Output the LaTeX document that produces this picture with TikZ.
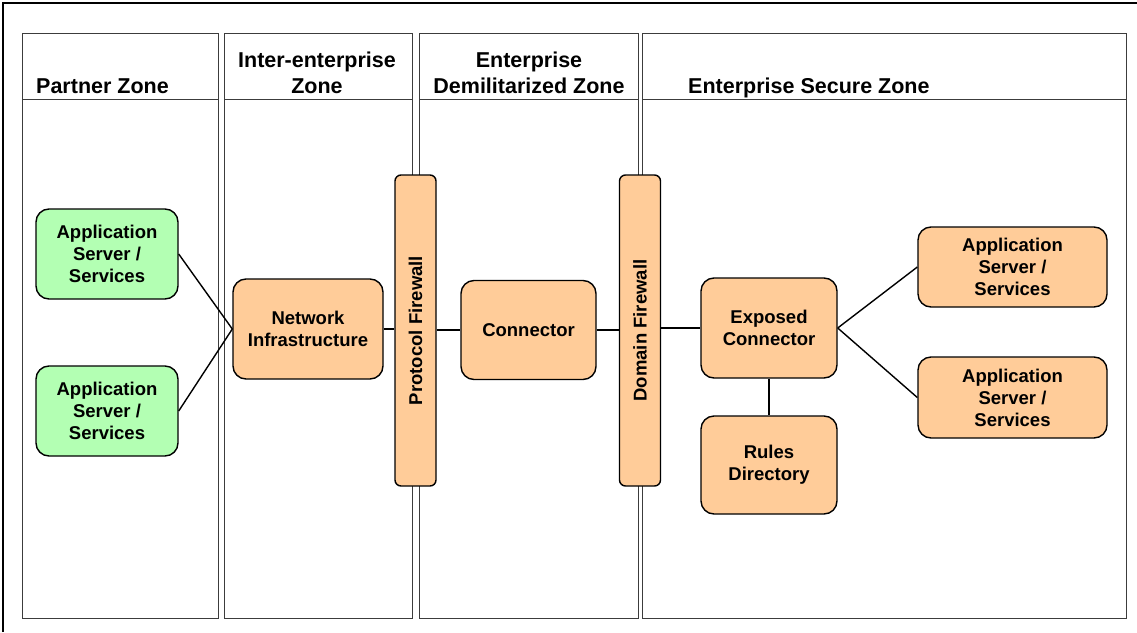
\documentclass[tikz,border=0pt]{standalone}
\usepackage{fontspec}
\usepackage{graphicx}
\setmainfont{Liberation Sans}
\definecolor{orangefill}{RGB}{255,204,153}
\definecolor{greenfill}{RGB}{179,255,179}
\definecolor{zoneline}{RGB}{60,60,60}
\begin{document}
\begin{tikzpicture}[x=1pt,y=-1pt,
  zone/.style={draw=zoneline, line width=0.9pt},
  box/.style={draw=black, line width=1.4pt, rounded corners=13pt, fill=orangefill,
    align=center, inner sep=0pt, font=\fontsize{18.5}{22}\selectfont\bfseries},
  greenbox/.style={box, fill=greenfill},
  fwbox/.style={draw=black, line width=1.4pt, rounded corners=6pt, fill=orangefill,
    inner sep=0pt, minimum width=41pt, minimum height=311pt,
    font=\fontsize{18.5}{22}\selectfont\bfseries},
  link/.style={draw=black, line width=1.4pt},
  head/.style={inner sep=0pt, font=\fontsize{21.5}{26}\selectfont\bfseries}]
\useasboundingbox (0,0) rectangle (1137,632);
% outer frame
\draw[line width=1.2pt] (3,632) -- (3,3) -- (1137,3);
% zones
\draw[zone] (22,33) rectangle (218,618);
\draw[zone] (22,99) -- (218,99);
\draw[zone] (224,33) rectangle (412,618);
\draw[zone] (224,99) -- (412,99);
\draw[zone] (419,33) rectangle (638,618);
\draw[zone] (419,99) -- (638,99);
\draw[zone] (642,33) rectangle (1126,618);
\draw[zone] (642,99) -- (1126,99);
% headers
\node[head, anchor=base west] (hPartner) at (36,93) {Partner Zone};
\node[head, anchor=base] (hInterA) at (317,67) {Inter-enterprise};
\node[head, anchor=base] (hInterB) at (317,93) {Zone};
\node[head, anchor=base] (hDmzA) at (529,67) {Enterprise};
\node[head, anchor=base] (hDmzB) at (529,93) {Demilitarized Zone};
\node[head, anchor=base west] (hSecure) at (688,93) {Enterprise Secure Zone};
% nodes
\node[greenbox, minimum width=142pt, minimum height=90pt] (gA1) at (107,254) {Application\\Server /\\Services};
\node[greenbox, minimum width=142pt, minimum height=90pt] (gA2) at (107,411) {Application\\Server /\\Services};
\node[box, minimum width=150pt, minimum height=100pt] (net) at (308,329) {Network\\Infrastructure};
\node[fwbox] (pfw) at (415.5,330.5) {\rotatebox{90}{Protocol Firewall}};
\node[box, minimum width=135pt, minimum height=99pt] (conn) at (528.5,330) {Connector};
\node[fwbox] (dfw) at (640,330.5) {\rotatebox{90}{Domain Firewall}};
\node[box, minimum width=136pt, minimum height=100pt] (exp) at (769,328) {Exposed\\Connector};
\node[box, minimum width=136pt, minimum height=98pt] (rules) at (769,465) {Rules\\Directory};
\node[box, minimum width=189pt, minimum height=80pt] (rA1) at (1012.5,267) {Application\\Server /\\Services};
\node[box, minimum width=189pt, minimum height=81pt] (rA2) at (1012.5,397.5) {Application\\Server /\\Services};
% links
\draw[link] (gA1.east) -- (net.west);
\draw[link] (gA2.east) -- (net.west);
\draw[link] (net.east) -- (net.east -| pfw.west);
\draw[link] (pfw.east |- conn.west) -- (conn.west);
\draw[link] (conn.east) -- (conn.east -| dfw.west);
\draw[link] (dfw.east |- exp.west) -- (exp.west);
\draw[link] (exp.south) -- (rules.north);
\draw[link] (exp.east) -- (rA1.west);
\draw[link] (exp.east) -- (rA2.west);
\end{tikzpicture}
\end{document}
